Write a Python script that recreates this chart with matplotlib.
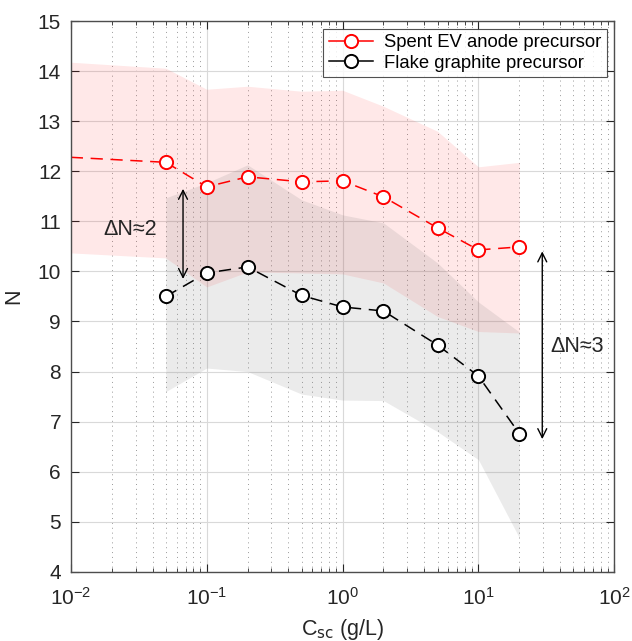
import numpy as np
import matplotlib.pyplot as plt
from matplotlib.lines import Line2D

plt.rcParams['font.family'] = ['Liberation Sans', 'DejaVu Sans']

# concentrations (g/L)
conc = [0.05, 0.1, 0.2, 0.5, 1, 2, 5, 10, 20]
n_spent = [12.18, 11.69, 11.89, 11.79, 11.81, 11.49, 10.87, 10.43, 10.49]
n_flake = [9.50, 9.97, 10.09, 9.52, 9.29, 9.21, 8.53, 7.91, 6.76]

# extrapolated start of the spent series
spent_start_x = 0.01
spent_start_y = 12.28

# shaded ranges
band_spent_x = [0.01, 0.05, 0.1, 0.2, 0.5, 1, 2, 5, 10, 20]
band_spent_hi = [14.18, 14.06, 13.64, 13.70, 13.60, 13.62, 13.30, 12.80, 12.09, 12.18]
band_spent_lo = [10.37, 10.27, 9.69, 9.99, 9.97, 9.95, 9.77, 9.10, 8.80, 8.77]

band_flake_x = [0.05, 0.1, 0.2, 0.5, 1, 2, 5, 10, 20]
band_flake_hi = [11.47, 11.77, 12.13, 11.43, 11.13, 10.97, 10.17, 9.39, 8.79]
band_flake_lo = [7.60, 8.07, 8.00, 7.55, 7.43, 7.42, 6.80, 6.24, 4.68]

labels = ['Spent EV anode precursor', 'Flake graphite precursor']

fig = plt.figure(figsize=(6.32, 6.41), dpi=100)
ax = fig.add_axes([0.112, 0.108, 0.860, 0.859])

ax.fill_between(band_spent_x, band_spent_lo, band_spent_hi, color='red', alpha=0.09, lw=0)
ax.fill_between(band_flake_x, band_flake_lo, band_flake_hi, color='0.45', alpha=0.14, lw=0)

ax.plot([spent_start_x, conc[0]], [spent_start_y, n_spent[0]], color='red', lw=1.1,
        dashes=(8, 5))
ax.plot(conc, n_spent, color='red', lw=1.1, dashes=(8, 5), marker='o', ms=9.5,
        mfc='white', mec='red', mew=1.4)
ax.plot(conc, n_flake, color='black', lw=1.1, dashes=(8, 5), marker='o', ms=9.5,
        mfc='white', mec='black', mew=1.4)

# delta annotations
ax.annotate('', xy=(0.067, 9.85), xytext=(0.067, 11.65),
            arrowprops=dict(arrowstyle='<->', color='black', lw=1.0,
                            shrinkA=0, shrinkB=0, mutation_scale=16))
ax.text(0.0275, 10.83, 'ΔN≈2', fontsize=15.5, ha='center', va='center', color='0.15')
ax.annotate('', xy=(29.5, 6.65), xytext=(29.5, 10.40),
            arrowprops=dict(arrowstyle='<->', color='black', lw=1.0,
                            shrinkA=0, shrinkB=0, mutation_scale=16))
ax.text(53, 8.5, 'ΔN≈3', fontsize=15.5, ha='center', va='center', color='0.15')

ax.set_xscale('log')
ax.set_xlim(1e-2, 1e2)
ax.set_ylim(4, 15)
ax.set_yticks(range(4, 16))

ax.grid(True, which='major', color='0.85', lw=0.8, ls='-')
ax.grid(True, which='minor', axis='x', color='0.6', lw=0.7, ls=(0, (1, 4)))
ax.set_axisbelow(True)

ax.tick_params(which='both', direction='in', top=True, right=True, labelsize=15,
               colors='0.15')
ax.tick_params(axis='x', pad=11)
ax.tick_params(axis='y', pad=7)
ax.tick_params(which='major', length=6)
ax.tick_params(which='minor', length=3)
for s in ax.spines.values():
    s.set_color('0.3')
    s.set_linewidth(1.0)

ax.set_xlabel('C$_{\\mathrm{sc}}$ (g/L)', fontsize=15.5, color='0.15', labelpad=6)
ax.set_ylabel('N', fontsize=15.5, color='0.15', labelpad=10)

# legend shows solid lines like the original
handles = [Line2D([], [], color=c, lw=1.1, marker='o', ms=9.5, mfc='white', mec=c, mew=1.4)
           for c in ['red', 'black']]
leg = ax.legend(handles, labels, loc='upper right', fontsize=13.3, frameon=True,
                fancybox=False, edgecolor='0.15', borderaxespad=0.4, handlelength=2.4,
                borderpad=0.3, labelspacing=0.2, handletextpad=0.6)
leg.get_frame().set_linewidth(0.8)

fig.savefig('out.png', dpi=100)
